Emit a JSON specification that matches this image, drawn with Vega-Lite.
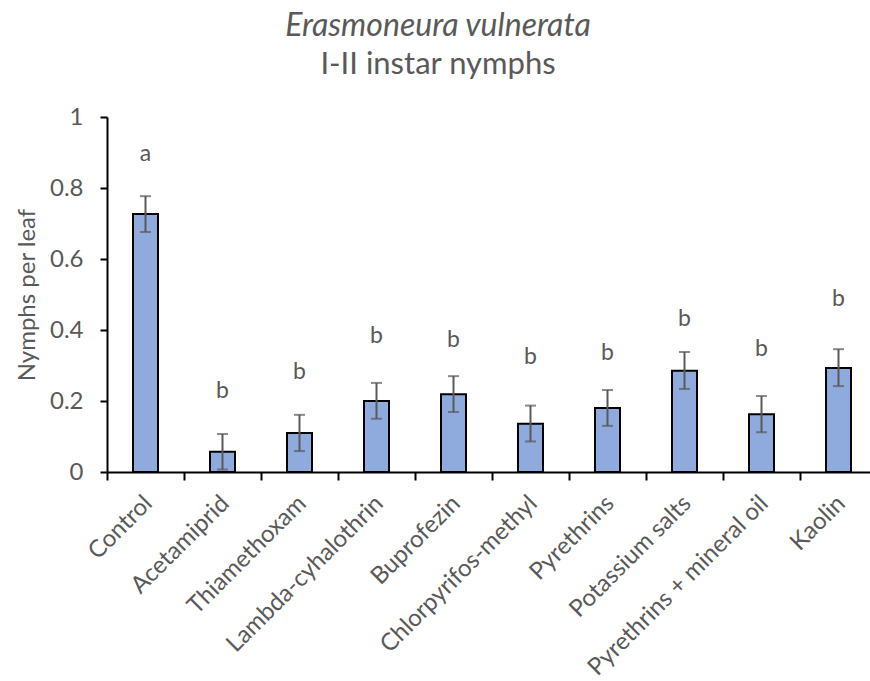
{
  "$schema": "https://vega.github.io/schema/vega-lite/v6.json",
  "autosize": "none",
  "width": 770,
  "height": 355,
  "padding": {"left": 107, "top": 117, "right": 0, "bottom": 209},
  "background": "white",
  "title": {
    "text": "Erasmoneura vulnerata",
    "subtitle": "I-II instar nymphs",
    "anchor": "middle",
    "frame": "group",
    "dx": -54,
    "offset": 24,
    "font": "Lato",
    "fontStyle": "italic",
    "fontWeight": "normal",
    "fontSize": 32,
    "color": "#595959",
    "subtitleFont": "Lato",
    "subtitleFontSize": 31,
    "subtitleColor": "#595959",
    "subtitlePadding": 7
  },
  "data": {
    "values": [
      {"treatment": "Control", "mean": 0.727, "lo": 0.676, "hi": 0.777, "letter": "a", "ly": 0.876},
      {"treatment": "Acetamiprid", "mean": 0.057, "lo": 0.007, "hi": 0.107, "letter": "b", "ly": 0.209},
      {"treatment": "Thiamethoxam", "mean": 0.110, "lo": 0.059, "hi": 0.161, "letter": "b", "ly": 0.263},
      {"treatment": "Lambda-cyhalothrin", "mean": 0.200, "lo": 0.150, "hi": 0.251, "letter": "b", "ly": 0.362},
      {"treatment": "Buprofezin", "mean": 0.219, "lo": 0.169, "hi": 0.270, "letter": "b", "ly": 0.352},
      {"treatment": "Chlorpyrifos-methyl", "mean": 0.136, "lo": 0.086, "hi": 0.187, "letter": "b", "ly": 0.304},
      {"treatment": "Pyrethrins", "mean": 0.180, "lo": 0.130, "hi": 0.231, "letter": "b", "ly": 0.315},
      {"treatment": "Potassium salts", "mean": 0.285, "lo": 0.234, "hi": 0.338, "letter": "b", "ly": 0.412},
      {"treatment": "Pyrethrins + mineral oil", "mean": 0.163, "lo": 0.112, "hi": 0.214, "letter": "b", "ly": 0.328},
      {"treatment": "Kaolin", "mean": 0.293, "lo": 0.242, "hi": 0.346, "letter": "b", "ly": 0.469}
    ]
  },
  "encoding": {
    "x": {
      "field": "treatment",
      "type": "nominal",
      "sort": null,
      "scale": {"paddingInner": 0, "paddingOuter": 0},
      "axis": {
        "title": null,
        "labelAngle": -45,
        "labelFont": "Lato",
        "labelFontSize": 24,
        "labelColor": "#595959",
        "labelPadding": 11,
        "labelOffset": -6,
        "domainColor": "black",
        "domainWidth": 2,
        "tickColor": "black",
        "tickWidth": 2,
        "tickSize": 8,
        "tickBand": "extent",
        "labelLimit": 400
      }
    }
  },
  "layer": [
    {
      "mark": {"type": "bar", "width": 25, "fill": "#8FAADC", "stroke": "black", "strokeWidth": 2},
      "encoding": {
        "y": {
          "field": "mean",
          "type": "quantitative",
          "scale": {"domain": [0, 1], "nice": false},
          "axis": {
            "title": "Nymphs per leaf",
            "titleFont": "Lato",
            "titleFontSize": 24,
            "titleFontWeight": "normal",
            "titleColor": "#595959",
            "titlePadding": 10,
            "values": [0, 0.2, 0.4, 0.6, 0.8, 1],
            "format": "~g",
            "grid": false,
            "labelFont": "Lato",
            "labelFontSize": 24,
            "labelColor": "#595959",
            "labelPadding": 17,
            "domainColor": "black",
            "domainWidth": 2,
            "tickColor": "black",
            "tickWidth": 2,
            "tickSize": 7
          }
        }
      }
    },
    {
      "mark": {"type": "rule", "color": "#595959", "strokeWidth": 2},
      "encoding": {
        "y": {"field": "lo", "type": "quantitative"},
        "y2": {"field": "hi"}
      }
    },
    {
      "mark": {"type": "tick", "color": "#595959", "size": 11, "thickness": 2, "orient": "horizontal"},
      "encoding": {"y": {"field": "hi", "type": "quantitative"}}
    },
    {
      "mark": {"type": "tick", "color": "#595959", "size": 11, "thickness": 2, "orient": "horizontal"},
      "encoding": {"y": {"field": "lo", "type": "quantitative"}}
    },
    {
      "mark": {"type": "text", "font": "Lato", "fontSize": 23, "color": "#595959", "baseline": "alphabetic", "align": "center"},
      "encoding": {
        "y": {"field": "ly", "type": "quantitative"},
        "text": {"field": "letter"}
      }
    }
  ],
  "config": {"view": {"stroke": null}}
}
